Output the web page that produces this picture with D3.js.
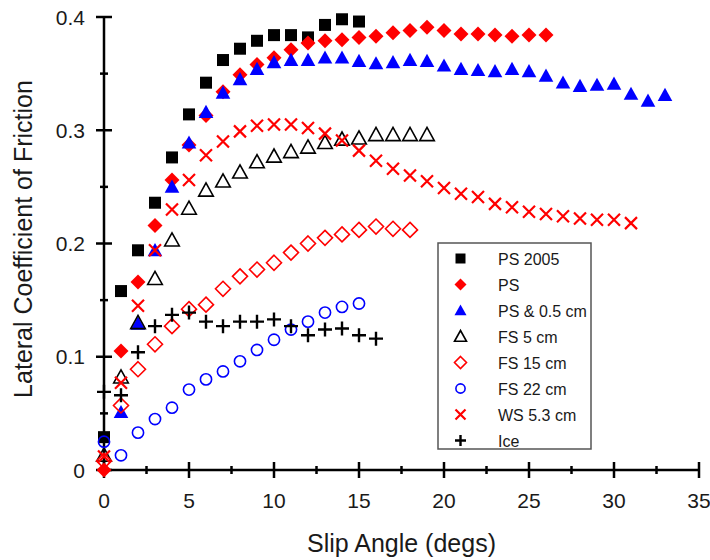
<!DOCTYPE html>
<html><head><meta charset="utf-8">
<script src="https://cdn.jsdelivr.net/npm/d3@7"></script>
<style>
html,body{margin:0;padding:0;background:#fff;}
svg{display:block;}
text{font-family:"Liberation Sans",Arial,Helvetica,sans-serif;fill:#1a1a1a;}
</style></head>
<body>
<svg id="chart" width="710" height="560"></svg>
<script>
// ---- data ----
const ps2005X = [0,1,2,3,4,5,6,7,8,9,10,11,12,13,14,15];
const ps2005Y = [0.029,0.158,0.194,0.236,0.276,0.314,0.342,0.362,0.372,0.379,0.384,0.384,0.382,0.393,0.398,0.396];

const psX = [0,1,2,3,4,5,6,7,8,9,10,11,12,13,14,15,16,17,18,19,20,21,22,23,24,25,26];
const psY = [0.0,0.105,0.166,0.216,0.256,0.287,0.313,0.334,0.349,0.358,0.364,0.371,0.377,0.379,0.380,0.382,0.383,0.386,0.388,0.391,0.388,0.385,0.385,0.384,0.383,0.384,0.384];

const ps05X = [1,2,3,4,5,6,7,8,9,10,11,12,13,14,15,16,17,18,19,20,21,22,23,24,25,26,27,28,29,30,31,32,33];
const ps05Y = [0.051,0.129,0.194,0.250,0.289,0.316,0.333,0.345,0.354,0.360,0.362,0.362,0.364,0.364,0.361,0.359,0.360,0.362,0.361,0.357,0.354,0.353,0.352,0.354,0.352,0.348,0.342,0.339,0.340,0.341,0.332,0.326,0.331];

const fs5X = [0,1,2,3,4,5,6,7,8,9,10,11,12,13,14,15,16,17,18,19];
const fs5Y = [0.013,0.082,0.130,0.169,0.203,0.231,0.247,0.255,0.263,0.272,0.277,0.281,0.285,0.289,0.292,0.293,0.296,0.296,0.296,0.296];

const fs15X = [0,1,2,3,4,5,6,7,8,9,10,11,12,13,14,15,16,17,18];
const fs15Y = [0.008,0.057,0.089,0.111,0.127,0.142,0.146,0.160,0.171,0.177,0.183,0.192,0.200,0.205,0.208,0.212,0.215,0.213,0.212];

const fs22X = [0,1,2,3,4,5,6,7,8,9,10,11,12,13,14,15];
const fs22Y = [0.025,0.013,0.033,0.045,0.055,0.071,0.080,0.087,0.096,0.106,0.115,0.124,0.131,0.139,0.144,0.147];

const wsX = [0,1,2,3,4,5,6,7,8,9,10,11,12,13,14,15,16,17,18,19,20,21,22,23,24,25,26,27,28,29,30,31];
const wsY = [0.012,0.077,0.145,0.194,0.230,0.256,0.278,0.290,0.299,0.304,0.305,0.305,0.302,0.297,0.291,0.282,0.273,0.266,0.260,0.255,0.249,0.244,0.241,0.235,0.232,0.228,0.226,0.224,0.222,0.221,0.221,0.218];

const iceX = [0,1,2,3,4,5,6,7,8,9,10,11,12,13,14,15,16];
const iceY = [0.069,0.066,0.104,0.127,0.137,0.139,0.131,0.127,0.131,0.131,0.133,0.127,0.119,0.124,0.125,0.119,0.116];

const seriesNames = ["PS 2005","PS","PS & 0.5 cm","FS 5 cm","FS 15 cm","FS 22 cm","WS 5.3 cm","Ice"];
const xTicks = [0,5,10,15,20,25,30,35];
const yTicks = [0,0.1,0.2,0.3,0.4];
const yTickLabels = ["0","0.1","0.2","0.3","0.4"];
const xTitle = "Slip Angle (degs)";
const yTitle = "Lateral Coefficient of Friction";

// ---- styles ----
const RED = "#ff0000", BLUE = "#0000ff", BLACK = "#000000";
const styles = [
  {shape:"square",   fill:BLACK, stroke:"none", sw:0},
  {shape:"diamond",  fill:RED,   stroke:"none", sw:0},
  {shape:"triangle", fill:BLUE,  stroke:"none", sw:0},
  {shape:"triangle", fill:"none",stroke:BLACK, sw:1.6},
  {shape:"diamond",  fill:"none",stroke:RED,   sw:1.6},
  {shape:"circle",   fill:"none",stroke:BLUE,  sw:1.6},
  {shape:"x",        fill:"none",stroke:RED,   sw:2.2},
  {shape:"plus",     fill:"none",stroke:BLACK, sw:2.4}
];
const allX = [ps2005X,psX,ps05X,fs5X,fs15X,fs22X,wsX,iceX];
const allY = [ps2005Y,psY,ps05Y,fs5Y,fs15Y,fs22Y,wsY,iceY];

function shapePath(shape, r){
  switch(shape){
    case "square": return `M${-r},${-r}H${r}V${r}H${-r}Z`;
    case "diamond": return `M0,${-r}L${r},0L0,${r}L${-r},0Z`;
    case "triangle": return `M0,${-r}L${r},${r*0.8}L${-r},${r*0.8}Z`;
    case "circle": return `M${r},0A${r},${r} 0 1,1 ${-r},0A${r},${r} 0 1,1 ${r},0Z`;
    case "x": return `M${-r},${-r}L${r},${r}M${-r},${r}L${r},${-r}`;
    case "plus": return `M${-r},0H${r}M0,${-r}V${r}`;
  }
}
const plotR = {square:6, diamond:7.5, triangle:7.3, circle:5.6, x:6, plus:7};
const legR  = {square:5, diamond:6,   triangle:6,   circle:4.6, x:5, plus:5.5};

const svg = d3.select("#chart");
const x = d3.scaleLinear().domain([0,35]).range([104,699]);
const y = d3.scaleLinear().domain([0,0.4]).range([470,17]);

// axes
const axisG = svg.append("g");
axisG.append("line").attr("x1",x(0)).attr("x2",x(35)).attr("y1",y(0)).attr("y2",y(0))
  .attr("stroke","#000").attr("stroke-width",2.5);
axisG.append("line").attr("x1",x(0)).attr("x2",x(0)).attr("y1",y(0)).attr("y2",y(0.4))
  .attr("stroke","#000").attr("stroke-width",2.5);

const xMinor = d3.range(0,35.01,2.5);
axisG.selectAll(".xt").data(xMinor).enter().append("line")
  .attr("x1",d=>x(d)).attr("x2",d=>x(d))
  .attr("y1",d=>y(0)-(d%5===0?8:4)).attr("y2",d=>y(0)+(d%5===0?8:4))
  .attr("stroke","#000").attr("stroke-width",2.5);
const yMinor = d3.range(0,0.4001,0.05);
axisG.selectAll(".yt").data(yMinor).enter().append("line")
  .attr("y1",d=>y(d)).attr("y2",d=>y(d))
  .attr("x1",(d,i)=>x(0)-(i%2===0?8:4)).attr("x2",(d,i)=>x(0)+(i%2===0?8:4))
  .attr("stroke","#000").attr("stroke-width",2.5);

axisG.selectAll(".xl").data(xTicks).enter().append("text")
  .attr("x",d=>x(d)).attr("y",y(0)+38).attr("text-anchor","middle")
  .attr("font-size",21).text(d=>d);
axisG.selectAll(".yl").data(yTicks).enter().append("text")
  .attr("x",85).attr("y",d=>y(d)+7.5).attr("text-anchor","end")
  .attr("font-size",21).text((d,i)=>yTickLabels[i]);

svg.append("text").attr("x",(x(0)+x(35))/2).attr("y",552).attr("text-anchor","middle")
  .attr("font-size",25).text(xTitle);
svg.append("text").attr("transform","translate(32,239) rotate(-90)").attr("text-anchor","middle")
  .attr("font-size",25).text(yTitle);

// data marks
allX.forEach((xs,si)=>{
  const st = styles[si];
  const pts = xs.map((v,i)=>({x:v,y:allY[si][i]}));
  svg.append("g").selectAll("path").data(pts).enter().append("path")
    .attr("transform",d=>`translate(${x(d.x)},${y(d.y)})`)
    .attr("d",shapePath(st.shape, plotR[st.shape]))
    .attr("fill",st.fill).attr("stroke",st.stroke).attr("stroke-width",st.sw);
});

// legend
const lg = svg.append("g");
lg.append("rect").attr("x",438).attr("y",243).attr("width",153).attr("height",206)
  .attr("fill","#fff").attr("stroke","#555").attr("stroke-width",1.5);
seriesNames.forEach((name,i)=>{
  const st = styles[i];
  const cy = 258.5 + i*26;
  lg.append("path").attr("transform",`translate(460.5,${cy})`)
    .attr("d",shapePath(st.shape, legR[st.shape]))
    .attr("fill",st.fill).attr("stroke",st.stroke).attr("stroke-width",st.sw);
  lg.append("text").attr("x",498).attr("y",cy+6).attr("font-size",16).text(name);
});
</script>
</body></html>
